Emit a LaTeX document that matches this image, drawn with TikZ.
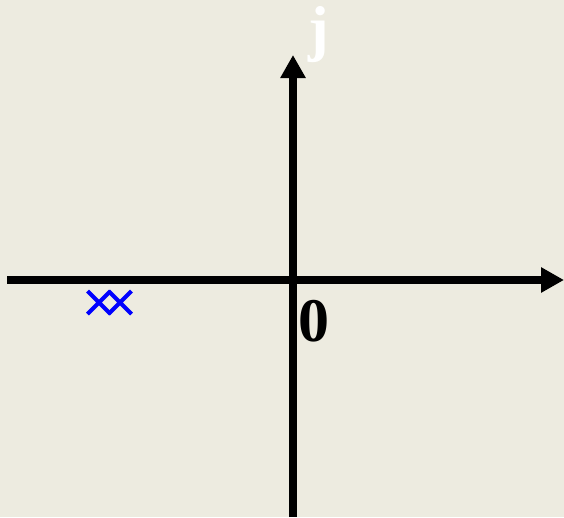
\documentclass[tikz,border=0pt]{standalone}
\usepackage{fontspec}
\setmainfont{Liberation Serif}
\usetikzlibrary{arrows.meta,shapes.misc}
\definecolor{cBack}{HTML}{EDEBE0}
\definecolor{cPole}{HTML}{0000FF}
\tikzset{
  axis/.style ={draw=black,line width=7.5pt,-{Triangle[length=23pt,width=24pt]}},
  pole/.style ={cross out,draw=cPole,line width=4pt,minimum size=19pt,inner sep=0pt},
  lbl/.style  ={font=\fontsize{62}{62}\selectfont\bfseries,inner sep=0pt,anchor=base west},
}
\begin{document}
\begin{tikzpicture}[x=1pt, y=-1pt]
\fill[cBack] (0,0) rectangle (564,517);
\useasboundingbox (0,0) rectangle (564,517);

% axes
\coordinate (re0) at (7,280);
\coordinate (re1) at (564,280);
\coordinate (im0) at (293,517);
\coordinate (im1) at (293,55);
\draw[axis] (re0) -- (re1);
\draw[axis] (im0) -- (im1);

% labels
\node[lbl,text=white] (jlbl) at (308,49) {j};
\node[lbl] (zero) at (298,341) {0};

% double pole
\node[pole] (p1) at (99,302.5) {};
\node[pole] (p2) at (120,302.5) {};
\end{tikzpicture}
\end{document}
